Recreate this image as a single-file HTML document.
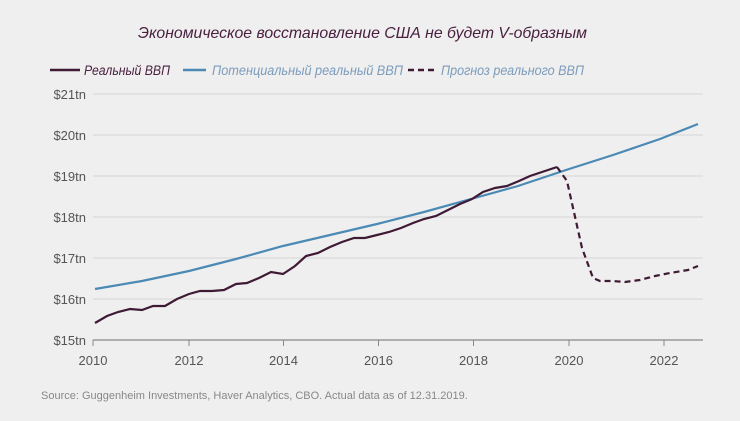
<!DOCTYPE html><html><head><meta charset="utf-8"><style>
body{margin:0;background:#efefef;}
svg{display:block;font-family:"Liberation Sans",sans-serif;}
</style></head><body>
<svg width="740" height="421" viewBox="0 0 740 421">
<rect width="740" height="421" fill="#efefef"/>
<text x="138" y="38" font-size="16" font-style="italic" fill="#4a2040" textLength="449" lengthAdjust="spacingAndGlyphs">Экономическое восстановление США не будет V-образным</text>
<line x1="50" y1="70" x2="80" y2="70" stroke="#3f1a35" stroke-width="2.5"/>
<text x="84" y="75" font-size="13.5" font-style="italic" fill="#4a2040" textLength="86" lengthAdjust="spacingAndGlyphs">Реальный ВВП</text>
<line x1="183" y1="70" x2="206" y2="70" stroke="#4a8ab5" stroke-width="2.5"/>
<text x="212" y="75" font-size="13.5" font-style="italic" fill="#7c9cbc" textLength="191" lengthAdjust="spacingAndGlyphs">Потенциальный реальный ВВП</text>
<line x1="408" y1="70" x2="437" y2="70" stroke="#3f1a35" stroke-width="2.5" stroke-dasharray="6,4"/>
<text x="441" y="75" font-size="13.5" font-style="italic" fill="#7c9cbc" textLength="143" lengthAdjust="spacingAndGlyphs">Прогноз реального ВВП</text>
<g stroke="#d6d6d6" stroke-width="1">
<line x1="93" y1="94" x2="703" y2="94"/><line x1="93" y1="135" x2="703" y2="135"/><line x1="93" y1="176" x2="703" y2="176"/><line x1="93" y1="217" x2="703" y2="217"/><line x1="93" y1="258" x2="703" y2="258"/><line x1="93" y1="299" x2="703" y2="299"/>
</g>
<line x1="93" y1="340" x2="703" y2="340" stroke="#888" stroke-width="1.2"/>
<g stroke="#888"><line x1="93" y1="340" x2="93" y2="346"/><line x1="189" y1="340" x2="189" y2="346"/><line x1="283.5" y1="340" x2="283.5" y2="346"/><line x1="378.5" y1="340" x2="378.5" y2="346"/><line x1="473.5" y1="340" x2="473.5" y2="346"/><line x1="569" y1="340" x2="569" y2="346"/><line x1="664" y1="340" x2="664" y2="346"/></g>
<g font-size="13" fill="#555" text-anchor="end">
<text x="86" y="99">$21tn</text><text x="86" y="140">$20tn</text><text x="86" y="181">$19tn</text><text x="86" y="222">$18tn</text><text x="86" y="263">$17tn</text><text x="86" y="304">$16tn</text><text x="86" y="345">$15tn</text></g>
<g font-size="13" fill="#555" text-anchor="middle">
<text x="93" y="365">2010</text><text x="189" y="365">2012</text><text x="283.5" y="365">2014</text><text x="378.5" y="365">2016</text><text x="473.5" y="365">2018</text><text x="569" y="365">2020</text><text x="664" y="365">2022</text></g>
<text x="41" y="399" font-size="11" fill="#888">Source: Guggenheim Investments, Haver Analytics, CBO. Actual data as of 12.31.2019.</text>
<polyline fill="none" stroke="#4a8ab5" stroke-width="2.2" points="95,289 142,281 189,271 236,259 283,246 330,235 377,224 424,212 471,199 518,186 566,170 613,155 660,139 698,124"/>
<polyline fill="none" stroke="#3f1a35" stroke-width="2.2" points="95,323 107,316 118,312 130,309 142,310 153,306 165,306 177,299 189,294 200,291 212,291 224,290 236,284 247,283 259,278 271,272 283,274 295,266 306,256 318,253 330,247 342,242 354,238 365,238 377,235 389,232 401,228 413,223 424,219 436,216 448,210 460,204 472,199 483,192 495,188 507,186 519,181 530,176 542,172 557,167"/>
<polyline fill="none" stroke="#3f1a35" stroke-width="2.2" stroke-dasharray="6,4" points="557,167 567,181 582,248 593,278 600,281 612,281 625,282 640,280 655,276 670,273 688,270 698,266"/>
</svg></body></html>
